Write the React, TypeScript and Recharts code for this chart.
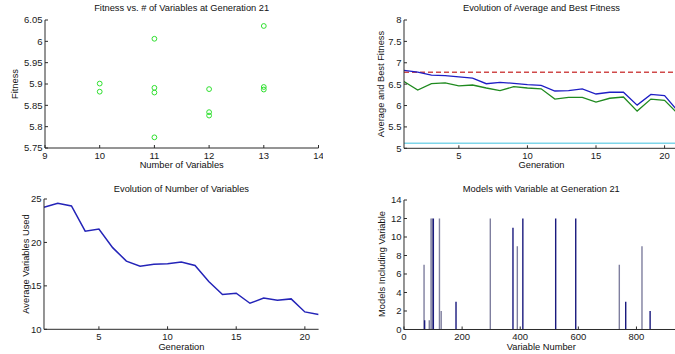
import {
  ScatterChart,
  Scatter,
  LineChart,
  Line,
  BarChart,
  Bar,
  XAxis,
  YAxis,
  ReferenceLine,
} from "recharts";

// top left: fitness of every model at the last generation, by model size
const modelSize = [10, 10, 11, 11, 11, 11, 12, 12, 12, 13, 13, 13];
const modelFitness = [5.901, 5.882, 6.006, 5.891, 5.88, 5.775, 5.888, 5.834, 5.826, 6.036, 5.893, 5.887];

// top right + bottom left share the generation axis
const generations = [1, 2, 3, 4, 5, 6, 7, 8, 9, 10, 11, 12, 13, 14, 15, 16, 17, 18, 19, 20, 21];
const avgFitness = [6.82, 6.78, 6.71, 6.7, 6.67, 6.64, 6.51, 6.54, 6.52, 6.49, 6.47, 6.34, 6.35, 6.39, 6.27, 6.31, 6.31, 6.01, 6.26, 6.23, 5.86];
const bestFitness = [6.56, 6.36, 6.51, 6.53, 6.46, 6.48, 6.41, 6.35, 6.44, 6.41, 6.39, 6.15, 6.19, 6.19, 6.08, 6.17, 6.2, 5.87, 6.15, 6.12, 5.8];
const fullModelFitness = 6.78;
const targetFitness = 5.12;
const avgVarsUsed = [24.04, 24.5, 24.2, 21.3, 21.55, 19.4, 17.85, 17.25, 17.5, 17.55, 17.75, 17.34, 15.5, 14.0, 14.15, 13.0, 13.6, 13.35, 13.5, 12.0, 11.7];

// bottom right: how many models include each variable
const varNumber = [69, 71, 87, 93, 97, 101, 122, 128, 179, 297, 375, 390, 409, 522, 591, 741, 763, 819, 847];
const modelsWithVar = [7, 1, 1, 12, 12, 12, 12, 2, 3, 12, 11, 9, 12, 12, 12, 7, 3, 9, 2];
const nVariables = 945;

// tick labels
const sizeTicks = [9, 10, 11, 12, 13, 14];
const fitnessTicks = [5.75, 5.8, 5.85, 5.9, 5.95, 6, 6.05];
const genTicks = [5, 10, 15, 20];
const evoFitnessTicks = [5, 5.5, 6, 6.5, 7, 7.5, 8];
const varsUsedTicks = [10, 15, 20, 25];
const varNumberTicks = [0, 200, 400, 600, 800];
const countTicks = [0, 2, 4, 6, 8, 10, 12, 14];

const scatterData = modelSize.map((n, i) => ({ n, fit: modelFitness[i] }));
const genData = generations.map((g, i) => ({
  g,
  avg: avgFitness[i],
  best: bestFitness[i],
  vars: avgVarsUsed[i],
}));
const barData = varNumber.map((v, i) => ({ v, c: modelsWithVar[i] }));

// bars that come out crisp (the rest get smeared grey by the downsampling)
const crisp = new Set([71, 101, 179, 375, 409, 522, 591, 763, 847]);

const YW = 40;
const XH = 22;
const M = { top: 10, right: 4, bottom: 0, left: 0 };
const FONT = "'Liberation Sans', Arial, sans-serif";
const AXIS = "#2a2a2a";

const tickStyle = { fill: "#1a1a1a", fontSize: 9.5, fontFamily: FONT };

const xProps = {
  type: "number" as const,
  tick: tickStyle,
  tickSize: -3,
  tickMargin: 7,
  interval: 0 as const,
  height: XH,
  allowDataOverflow: true,
  stroke: AXIS,
};
const yProps = {
  type: "number" as const,
  tick: tickStyle,
  tickSize: -3,
  tickMargin: 5.5,
  interval: 0 as const,
  width: YW,
  allowDataOverflow: true,
  stroke: AXIS,
};

// mirrored frame on top and right, ticks only
function frame(xDomain: number[], xTicks: number[], yDomain: number[], yTicks: number[]) {
  return [
    <XAxis
      key="top"
      xAxisId="top"
      orientation="top"
      type="number"
      domain={xDomain}
      ticks={xTicks}
      height={0}
      tick={false}
      tickSize={-3}
      allowDataOverflow
      stroke={AXIS}
    />,
    <YAxis
      key="right"
      yAxisId="right"
      orientation="right"
      type="number"
      domain={yDomain}
      ticks={yTicks}
      width={0}
      tick={false}
      tickSize={-3}
      allowDataOverflow
      stroke={AXIS}
    />,
  ];
}

function Txt({ x, y, rot, children }: { x: number; y: number; rot?: boolean; children: string }) {
  return (
    <div
      style={{
        position: "absolute",
        left: x,
        top: y,
        transform: `translate(-50%, -50%)${rot ? " rotate(-90deg)" : ""}`,
        whiteSpace: "nowrap",
        fontSize: 9.3,
        lineHeight: 1,
        color: "#111",
      }}
    >
      {children}
    </div>
  );
}

function box(px: number, py: number, pw: number, ph: number) {
  return {
    style: { position: "absolute" as const, left: px - YW, top: py - M.top },
    width: YW + pw + M.right,
    height: M.top + ph + XH,
  };
}

const Ring = (p: any) => (
  <circle cx={p.cx} cy={p.cy} r={2.4} fill="none" stroke="#2fe02f" strokeWidth={1} />
);

const ThinBar = (p: any) => {
  if (p.height == null || p.height <= 0) return null;
  const mid = p.x + p.width / 2;
  const dark = crisp.has(p.payload?.v);
  return (
    <rect
      x={mid - 0.7}
      y={p.y}
      width={1.4}
      height={p.height}
      fill={dark ? "#1a1a7e" : "#7f7f9f"}
    />
  );
};

export default function App() {
  const p1 = box(45, 20, 273.5, 128);
  const p2 = box(404.3, 20, 274.3, 128.3);
  const p3 = box(44.1, 199, 274.6, 130.3);
  const p4 = box(404, 199.5, 274.6, 129.5);

  return (
    <div
      style={{
        position: "fixed",
        left: 0,
        top: 0,
        width: 675,
        height: 354,
        overflow: "hidden",
        background: "#fff",
        fontFamily: FONT,
      }}
    >
      {/* top left */}
      <div style={p1.style}>
        <ScatterChart width={p1.width} height={p1.height} margin={M}>
          <XAxis {...xProps} dataKey="n" domain={[9, 14]} ticks={sizeTicks} />
          <YAxis {...yProps} dataKey="fit" domain={[5.75, 6.05]} ticks={fitnessTicks} />
          {frame([9, 14], sizeTicks, [5.75, 6.05], fitnessTicks)}
          <Scatter data={scatterData} shape={Ring} isAnimationActive={false} />
        </ScatterChart>
      </div>
      <Txt x={181.7} y={9.3}>Fitness vs. # of Variables at Generation 21</Txt>
      <Txt x={181.7} y={165.7}>Number of Variables</Txt>
      <Txt x={16} y={84} rot>Fitness</Txt>

      {/* top right */}
      <div style={p2.style}>
        <LineChart width={p2.width} height={p2.height} margin={M} data={genData}>
          <XAxis {...xProps} dataKey="g" domain={[1, 21]} ticks={genTicks} />
          <YAxis {...yProps} domain={[5, 8]} ticks={evoFitnessTicks} />
          {frame([1, 21], genTicks, [5, 8], evoFitnessTicks)}
          <ReferenceLine y={fullModelFitness} stroke="#d04a4a" strokeWidth={1.5} strokeDasharray="5 3" />
          <ReferenceLine y={targetFitness} stroke="#7fd6ea" strokeWidth={1.5} />
          <Line dataKey="avg" stroke="#1e1ec4" strokeWidth={1.3} dot={false} isAnimationActive={false} />
          <Line dataKey="best" stroke="#1f8a1f" strokeWidth={1.3} dot={false} isAnimationActive={false} />
        </LineChart>
      </div>
      <Txt x={541.5} y={9.3}>Evolution of Average and Best Fitness</Txt>
      <Txt x={541.5} y={166}>Generation</Txt>
      <Txt x={381.7} y={84} rot>Average and Best Fitness</Txt>

      {/* bottom left */}
      <div style={p3.style}>
        <LineChart width={p3.width} height={p3.height} margin={M} data={genData}>
          <XAxis {...xProps} dataKey="g" domain={[1, 21]} ticks={genTicks} />
          <YAxis {...yProps} domain={[10, 25]} ticks={varsUsedTicks} />
          {frame([1, 21], genTicks, [10, 25], varsUsedTicks)}
          <Line dataKey="vars" stroke="#2424b8" strokeWidth={1.5} dot={false} isAnimationActive={false} />
        </LineChart>
      </div>
      <Txt x={181.4} y={190}>Evolution of Number of Variables</Txt>
      <Txt x={181.4} y={347.5}>Generation</Txt>
      <Txt x={26.7} y={264} rot>Average Variables Used</Txt>

      {/* bottom right */}
      <div style={p4.style}>
        <BarChart width={p4.width} height={p4.height} margin={M} data={barData}>
          <XAxis {...xProps} dataKey="v" domain={[0, nVariables]} ticks={varNumberTicks} />
          <YAxis {...yProps} domain={[0, 14]} ticks={countTicks} />
          {frame([0, nVariables], varNumberTicks, [0, 14], countTicks)}
          <Bar dataKey="c" shape={ThinBar} isAnimationActive={false} />
        </BarChart>
      </div>
      <Txt x={541.3} y={190}>Models with Variable at Generation 21</Txt>
      <Txt x={541.3} y={347.5}>Variable Number</Txt>
      <Txt x={382.7} y={264} rot>Models Including Variable</Txt>
    </div>
  );
}
